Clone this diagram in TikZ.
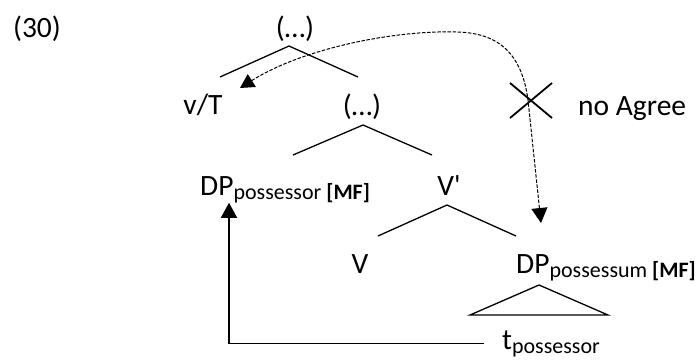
\documentclass[tikz,border=0pt]{standalone}
\usepackage{fontspec}
\setmainfont{Carlito}
\usetikzlibrary{arrows.meta}

\newcommand{\lowsub}[1]{\raisebox{-4pt}{\fontsize{22}{22}\selectfont #1}}

\tikzset{
	lbl/.style={inner sep=0pt,font=\fontsize{29.5}{35}\selectfont},
	branch/.style={line width=1.3pt},
	agree/.style={line width=1pt,dash pattern=on 3.5pt off 1.6pt,{Triangle[length=14pt,width=15pt]}-{Triangle[length=15pt,width=16pt]}},
	move/.style={line width=1.3pt,-{Triangle[length=15pt,width=16pt]}}
}

\begin{document}
\begin{tikzpicture}[x=1pt,y=-1pt]
	\useasboundingbox (0,0) rectangle (696,360);
	\begin{scope}[every node/.style={lbl}]
	\node[anchor=base] (ex) at (37,37) {(30)};
	\node[anchor=base] (top) at (295,37) {(…)};
	\node[anchor=base] (vT) at (203,114) {v/T};
	\node[anchor=base] (mid) at (362,115) {(…)};
	\node[anchor=base west] (noagr) at (578,115) {no Agree};
	\node[anchor=base west] (dpor) at (200,195) {DP\lowsub{possessor \textbf{[MF]}}};
	\node[anchor=base] (vbar) at (449,195) {V\textquotesingle};
	\node[anchor=base] (v) at (360,273) {V};
	\node[anchor=base west] (dpum) at (516,273) {DP\lowsub{possessum \textbf{[MF]}}};
	\node[anchor=base west] (tpor) at (502,349) {t\lowsub{possessor}};
	\end{scope}
	
	\coordinate (top-a) at (289,46);
	\coordinate (mid-a) at (363,125);
	\coordinate (vbar-a) at (447,205);
	\coordinate (dpum-a) at (539,285);
	\coordinate (agr-a) at (240,88);
	\coordinate (agr-b) at (541,223);
	\coordinate (nox) at (531,100);
	
	\draw [branch] (top-a) -- ++(-69,31);
	\draw [branch] (top-a) -- ++(69,31);
	\draw [branch] (mid-a) -- ++(-70,30);
	\draw [branch] (mid-a) -- ++(69,30);
	\draw [branch] (vbar-a) -- ++(-69,31);
	\draw [branch] (vbar-a) -- ++(69,31);
	\draw [branch] (dpum-a) -- ++(-69,30) -- ++(138,0) -- cycle;
	
	\draw [agree] (agr-a) .. controls (300,50) and (390,30) .. (457,32)
		.. controls (500,33) and (522,55) .. (528,100) -- (agr-b);
	\draw [line width=1.8pt] (nox) ++(-21,-17) -- ++(42,35);
	\draw [line width=1.8pt] (nox) ++(-21,18) -- ++(42,-35);
	
	\draw [move] ([xshift=-18pt]tpor.west) -| ([xshift=29pt]dpor.south west);
\end{tikzpicture}
\end{document}
